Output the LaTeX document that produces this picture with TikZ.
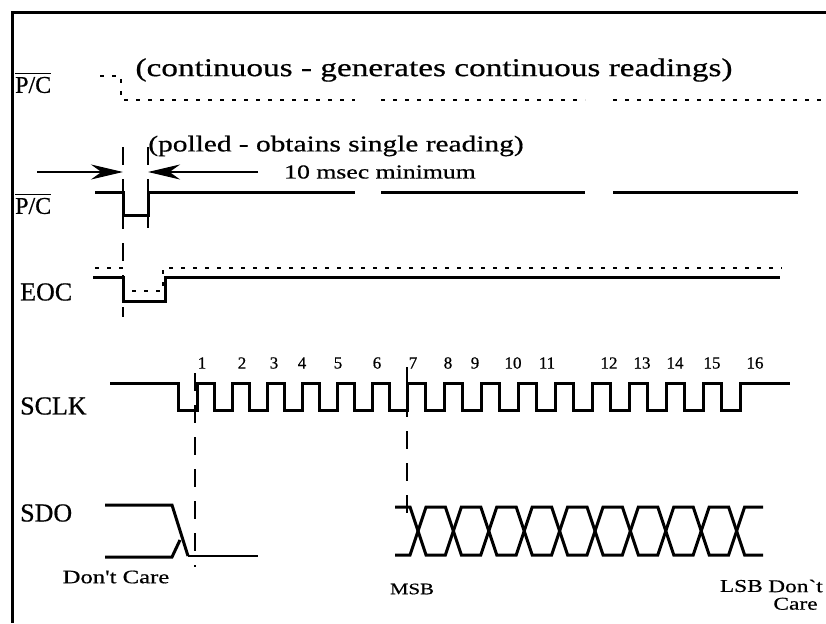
\documentclass[tikz,border=0pt]{standalone}
\usepackage{fontspec}
\setmainfont[FakeBold=0.6]{Liberation Serif}
\newfontfamily\scanfont[FakeStretch=1.3,FakeBold=0.6]{Liberation Serif}
\usetikzlibrary{arrows.meta,positioning}
\tikzset{
%Define standard arrow tip
    >={Stealth[length=32pt,width=15pt]},
%Define style for signal traces
    sig/.style={
           line width=3pt},
    sigthin/.style={
           line width=1.8pt},
%Define style for continuous mode traces
    cont/.style={
           line width=2.2pt,
           dash pattern=on 4pt off 8pt},
%Define style for timing guides
    guide/.style={
           line width=1.8pt,
           dash pattern=on 18pt off 14pt},
% Define arrow style
    pil/.style={
           ->,
           line width=1.8pt},
%Define styles for texts
    lbl/.style={
           anchor=west,
           inner sep=0pt,
           font=\fontsize{#1}{#1}\selectfont},
    lbl/.default=26,
    note/.style={
           inner sep=0pt,
           font=\scanfont\fontsize{#1}{#1}\selectfont},
    note/.default=19,
    num/.style={
           inner sep=0pt,
           font=\fontsize{17}{17}\selectfont},
    bar/.style={
           line width=1.4pt}
}
\begin{document}
\begin{tikzpicture}[x=1pt,y=-1pt]
 \useasboundingbox[fill=white] (0,0) rectangle (826,623);
 \draw[line width=3pt] (826,13) -- (12,13) -- (12,623);
% continuous mode
 \node[note=25.6] (contnote) at (434,70) {(continuous - generates continuous readings)};
 \node[lbl=24] (pccont) at (15,85) {P/C};
 \draw[bar] ([yshift=3pt]pccont.north west) -- ([yshift=3pt]pccont.north east);
 \draw[cont] (100,76) -- (121,76) -- (121,100) -- (355,100);
 \draw[cont] (381,100) -- (585,100);
 \draw[cont] (613,100) -- (826,100);
% polled mode
 \node[note=22.6] (pollnote) at (336,146) {(polled - obtains single reading)};
 \node[note=19.8] (msec) at (380,172) {10 msec minimum};
 \coordinate (pcfall) at (123,172);
 \coordinate (pcrise) at (148,172);
 \coordinate (arrl) at (37,172);
 \coordinate (arrr) at (258,172);
 \draw[pil] (arrl) -- (pcfall);
 \draw[pil] (arrr) -- (pcrise);
 \node[lbl=24] (pcpoll) at (15,206) {P/C};
 \draw[bar] ([yshift=3pt]pcpoll.north west) -- ([yshift=3pt]pcpoll.north east);
 \draw[sig] (95,192) -- (123,192) -- (123,215) -- (148,215) -- (148,192) -- (355,192);
 \draw[sig] (381,192) -- (585,192);
 \draw[sig] (613,192) -- (798,192);
 \draw[guide] (123,147) -- (123,317);
 \draw[guide] (148,147) -- (148,228);
% EOC
 \node[lbl] (eoc) at (20,292) {EOC};
 \draw[cont] (95,268) -- (123,268) -- (123,291) -- (163,291) -- (163,268) -- (782,268);
 \draw[sig] (93,277) -- (123,277) -- (123,301) -- (165,301) -- (165,277) -- (780,277);
% SCLK
 \node[lbl] (sclk) at (20,406) {SCLK};
 \foreach \n/\x in {1/202,2/242,3/274,4/302,5/338,6/377,7/413,8/448,
                    9/475,10/513,11/547,12/609,13/642,14/675,15/712,16/755}
   \node[num] (clk\n) at (\x,363) {\n};
 \draw[sig] (110,383) -- (178,383) -- (178,410)
   foreach \i in {0,...,5} {
     -- ({197+35*\i},410) -- ({197+35*\i},383)
     -- ({214+35*\i},383) -- ({214+35*\i},410)}
   foreach \i in {0,...,8} {
     -- ({407+37*\i},410) -- ({407+37*\i},383)
     -- ({425+37*\i},383) -- ({425+37*\i},410)}
   -- (740,410) -- (740,383) -- (790,383);
 \draw[guide] (195,373) -- (195,567);
 \draw[guide] (407,367) -- (407,527);
% SDO
 \node[lbl] (sdo) at (20,513) {SDO};
 \draw[sig] (105,505) -- (172,505) -- (188,556);
 \draw[sig] (105,557) -- (172,557) -- (180,540);
 \draw[sigthin] (188,556) -- (258,556);
 \draw[sig] (395,507)
   foreach \j in {0,...,4} {
     -- ({410+70.8*\j},507) -- ({426+70.8*\j},555)
     -- ({445.4+70.8*\j},555) -- ({461.4+70.8*\j},507)}
   -- (763,507);
 \draw[sig] (395,555)
   foreach \j in {0,...,4} {
     -- ({410+70.8*\j},555) -- ({426+70.8*\j},507)
     -- ({445.4+70.8*\j},507) -- ({461.4+70.8*\j},555)}
   -- (763,555);
 \node[note] (dcleft) at (116,577) {Don't Care};
 \node[note=16] (msb) at (412,589) {MSB};
 \node[note=18, anchor=west] (dcright) at (768,586) {Don`t};
 \node[note=18, left=5pt of dcright] (lsb) {LSB};
 \node[note=18, below=5pt of dcright] (care) {Care};
\end{tikzpicture}
\end{document}
